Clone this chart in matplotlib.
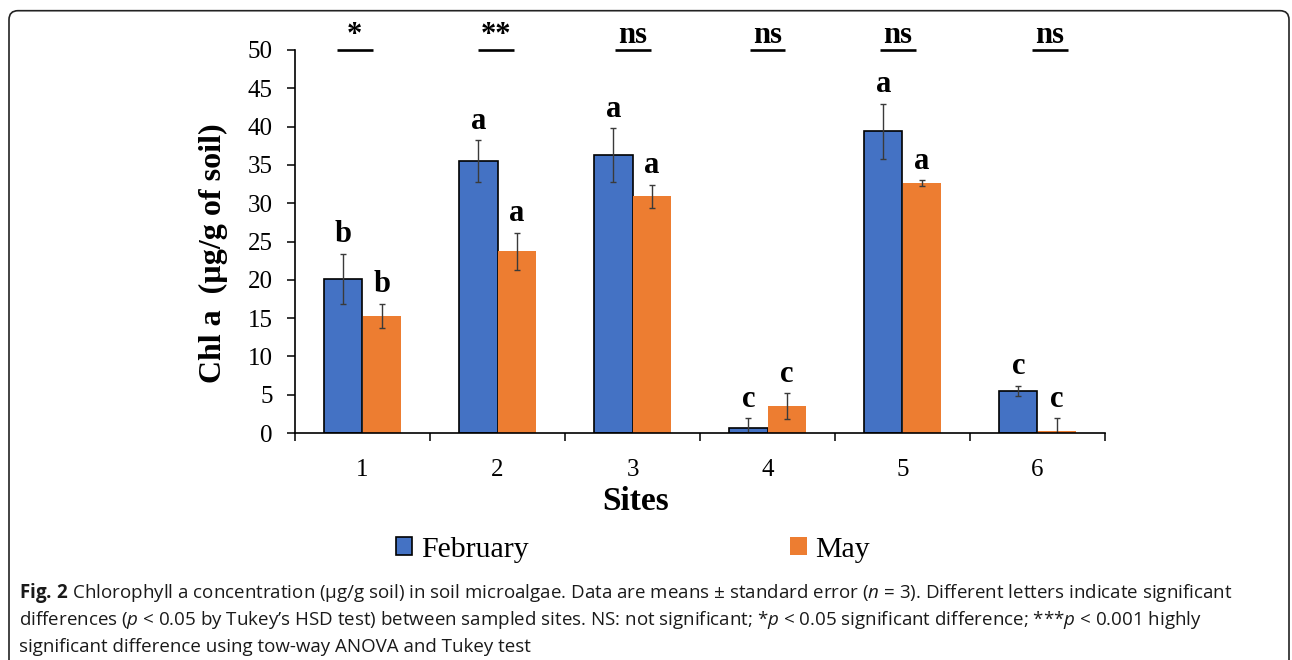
import matplotlib
matplotlib.use("Agg")
import matplotlib.pyplot as plt
import numpy as np
from matplotlib.patches import FancyBboxPatch

sites = ["1", "2", "3", "4", "5", "6"]
feb = [20.1, 35.5, 36.3, 0.6, 39.4, 5.5]
feb_err = [3.3, 2.7, 3.5, 1.3, 3.6, 0.7]
may = [15.3, 23.7, 30.9, 3.5, 32.6, 0.3]
may_err = [1.6, 2.45, 1.5, 1.7, 0.4, 1.6]
feb_letters = ["b", "a", "a", "c", "a", "c"]
may_letters = ["b", "a", "a", "c", "a", "c"]
sig = ["*", "**", "ns", "ns", "ns", "ns"]

caption = [
    r"$\mathbf{Fig.\,2}$ Chlorophyll a concentration (µg/g soil) in soil microalgae. Data are means ± standard error ($\mathit{n}$ = 3). Different letters indicate significant",
    r"differences ($\mathit{p}$ < 0.05 by Tukey’s HSD test) between sampled sites. NS: not significant; *$\mathit{p}$ < 0.05 significant difference; ***$\mathit{p}$ < 0.001 highly",
    "significant difference using tow-way ANOVA and Tukey test",
]

blue = "#4472C4"
orange = "#ED7D31"

plt.rcParams["font.family"] = ["Liberation Serif", "DejaVu Serif"]
plt.rcParams["mathtext.fontset"] = "custom"
plt.rcParams["mathtext.rm"] = "Open Sans"
plt.rcParams["mathtext.it"] = "Open Sans:italic"
plt.rcParams["mathtext.bf"] = "Open Sans:bold"

W, H = 1292, 660
fig = plt.figure(figsize=(W / 100, H / 100), dpi=100)
ax = fig.add_axes([295 / W, (H - 433) / H, (1105 - 295) / W, (433 - 50) / H])

x = np.arange(1, len(sites) + 1)
bw = 0.284
ekw = dict(ecolor="#3a3a3a", elinewidth=1.0, capsize=2.5, capthick=1.0)
b1 = ax.bar(x - bw / 2, feb, bw, yerr=feb_err, color=blue, edgecolor="black",
            linewidth=1.2, label="February", error_kw=ekw)
b2 = ax.bar(x + bw / 2, may, bw, yerr=may_err, color=orange, edgecolor="none",
            label="May", error_kw=ekw)

for i in range(len(sites)):
    ax.text(x[i] - bw / 2, feb[i] + feb_err[i] + 1.5, feb_letters[i], ha="center",
            va="baseline", fontsize=22, fontweight="bold", clip_on=False)
    ax.text(x[i] + bw / 2, may[i] + may_err[i] + 1.5, may_letters[i], ha="center",
            va="baseline", fontsize=22, fontweight="bold", clip_on=False)

# significance marks above the plot
sig_nudge = [-0.058, -0.011, 0.004, 0.0, -0.033, 0.093]
for i, s in enumerate(sig):
    cx = x[i] + sig_nudge[i]
    ax.plot([cx - 0.133, cx + 0.133], [50, 50], color="black", lw=1.9,
            clip_on=False, solid_capstyle="butt")
    ax.text(cx, 50.85, s, ha="center", va="baseline", fontsize=22,
            fontweight="bold", clip_on=False)

ax.set_xlim(0.5, 6.5)
ax.set_ylim(0, 50)
ax.set_yticks(np.arange(0, 51, 5))
ax.set_xticks(np.arange(0.5, 7.0, 1.0))
ax.set_xticklabels([])
ax.set_xticks(x, minor=True)
ax.set_xticklabels(sites, minor=True)
ax.tick_params(axis="x", which="major", direction="out", length=6, width=1.1)
ax.tick_params(axis="x", which="minor", length=0, pad=19, labelsize=18)
ax.tick_params(axis="y", direction="out", length=6, width=1.1, pad=10, labelsize=18)
for side in ["top", "right"]:
    ax.spines[side].set_visible(False)
for side in ["left", "bottom"]:
    ax.spines[side].set_linewidth(1.2)

fig.text(213 / W, 1 - 253 / H, "Chl a  (µg/g of soil)", rotation=90, ha="center",
         va="center", fontsize=23, fontweight="bold")
fig.text(636 / W, 1 - 502 / H, "Sites", ha="center", va="center", fontsize=24,
         fontweight="bold")

fig.legend(handles=[b1, b2], labels=["February", "May"], loc="center",
           bbox_to_anchor=(633 / W, 1 - 550 / H), ncol=2, frameon=False,
           fontsize=21.5, handlelength=0.55, handleheight=0.55, handletextpad=0.3,
           columnspacing=8.75)

# caption, sized so the first line spans the same width as in the figure
cap_texts = []
for j, line in enumerate(caption):
    t = fig.text(19 / W, 1 - (598 + 27 * j) / H, line, ha="left", va="baseline",
                 fontsize=12, family="Open Sans", color="#1a1a1a")
    cap_texts.append(t)
r = fig.canvas.get_renderer()
w0 = cap_texts[0].get_window_extent(renderer=r).width
fs = 12 * 1214 / w0
for t in cap_texts:
    t.set_fontsize(fs)

box = FancyBboxPatch((0.09, -0.2), 12.8, 6.693, boxstyle="round,pad=0,rounding_size=0.09",
                     transform=fig.dpi_scale_trans, facecolor="none",
                     edgecolor="#222222", linewidth=1.2, clip_on=False)
fig.patches.append(box)

fig.savefig("out.png", dpi=100)
